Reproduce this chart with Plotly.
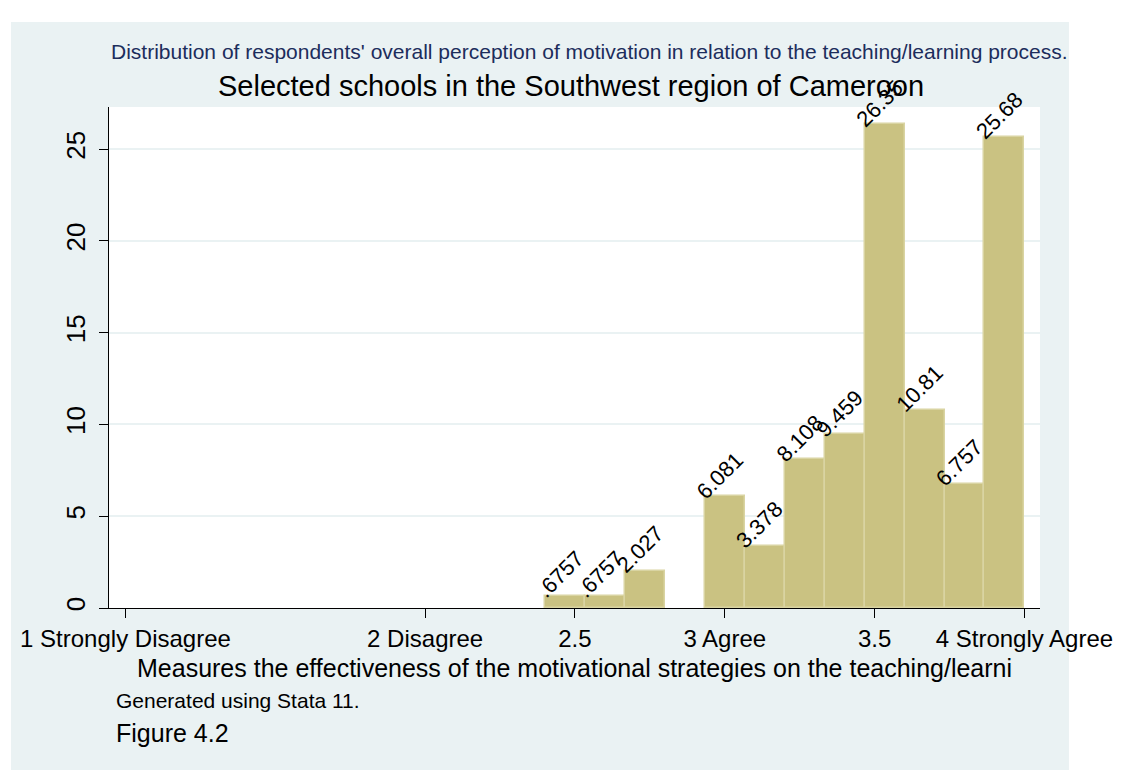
import plotly.graph_objects as go

# histogram of the scale score, 12 bins of width 2/15 starting at 2.4 (percent)
bin_start = 2.4
bin_width = 2 / 15
percent = [0.6757, 0.6757, 2.027, 0, 6.081, 3.378, 8.108, 9.459, 26.35, 10.81, 6.757, 25.68]
bar_labels = [".6757", ".6757", "2.027", "", "6.081", "3.378", "8.108", "9.459", "26.35", "10.81", "6.757", "25.68"]

x_tickvals = [1, 2, 2.5, 3, 3.5, 4]
x_ticktext = ["1 Strongly Disagree", "2 Disagree", "2.5", "3 Agree", "3.5", "4 Strongly Agree"]
y_tickvals = [0, 5, 10, 15, 20, 25]

subtitle = "Distribution of respondents' overall perception of motivation in relation to the teaching/learning process."
title = "Selected schools in the Southwest region of Cameroon"
x_title = "Measures the effectiveness of the motivational strategies on the teaching/learni"
note = "Generated using Stata 11."
caption = "Figure 4.2"

FONT = "Liberation Sans, Arial, sans-serif"
PANEL = "#EAF2F3"
BAR = "#CAC282"
BAR_EDGE = "#D9D4A2"

lefts = [bin_start + i * bin_width for i in range(len(percent))]
centers = [l + bin_width / 2 for l in lefts]

fig = go.Figure()
fig.add_trace(
    go.Bar(
        x=centers,
        y=[v if v > 0 else None for v in percent],
        width=bin_width,
        marker=dict(color=BAR, line=dict(color=BAR_EDGE, width=1.5)),
        hoverinfo="skip",
    )
)

# labels on top of the bars, rotated 45 degrees
for left, val, lab in zip(lefts, percent, bar_labels):
    if not lab:
        continue
    fig.add_annotation(
        x=left, y=val, xref="x", yref="y",
        text=lab, textangle=-45, showarrow=False,
        xanchor="left", yanchor="bottom",
        xshift=-16, yshift=-10,
        font=dict(family=FONT, size=22, color="black"),
    )

# light panel behind the whole graph, white plot region on top of it
fig.add_shape(
    type="rect", xref="paper", yref="paper",
    x0=-0.1053, x1=1.0311, y0=-0.3234, y1=1.1697,
    fillcolor=PANEL, line=dict(width=0), layer="below",
)
fig.add_shape(
    type="rect", xref="paper", yref="paper",
    x0=0, x1=1, y0=0, y1=1,
    fillcolor="white", line=dict(width=0), layer="below",
)

texts = [
    (subtitle, 0.5166, 1.1098, "center", 21, "#1C2D5C"),
    (title, 0.4962, 1.0419, "center", 29, "black"),
    (x_title, 0.5005, -0.1198, "center", 25, "black"),
    (note, 0.0054, -0.1856, "left", 21, "black"),
    (caption, 0.0054, -0.2495, "left", 25, "black"),
]
for txt, x, y, anchor, size, color in texts:
    fig.add_annotation(
        x=x, y=y, xref="paper", yref="paper", text=txt, showarrow=False,
        xanchor=anchor, yanchor="middle",
        font=dict(family=FONT, size=size, color=color),
    )

# the page adds an 8px body margin, so the plot sits 8px up/left here
fig.update_layout(
    width=1125,
    height=771,
    margin=dict(l=101, r=93, t=99, b=171),
    paper_bgcolor="white",
    plot_bgcolor="white",
    showlegend=False,
    bargap=0,
    font=dict(family=FONT, color="black"),
)
fig.update_xaxes(
    range=[0.945, 4.052],
    tickvals=x_tickvals,
    ticktext=x_ticktext,
    ticks="outside", ticklen=9, tickcolor="black", tickwidth=1,
    tickfont=dict(family=FONT, size=24, color="black"),
    showline=True, linecolor="black", linewidth=1,
    showgrid=False, zeroline=False, automargin=False,
)
fig.update_yaxes(
    range=[0, 27.3],
    tickvals=y_tickvals,
    ticks="outside", ticklen=9, tickcolor="black", tickwidth=1,
    tickangle=-90,
    ticklabelstandoff=4,
    tickfont=dict(family=FONT, size=26, color="black"),
    showline=True, linecolor="black", linewidth=1,
    showgrid=True, gridcolor=PANEL, gridwidth=2,
    zeroline=False, automargin=False,
)

fig.write_html("out.html")
